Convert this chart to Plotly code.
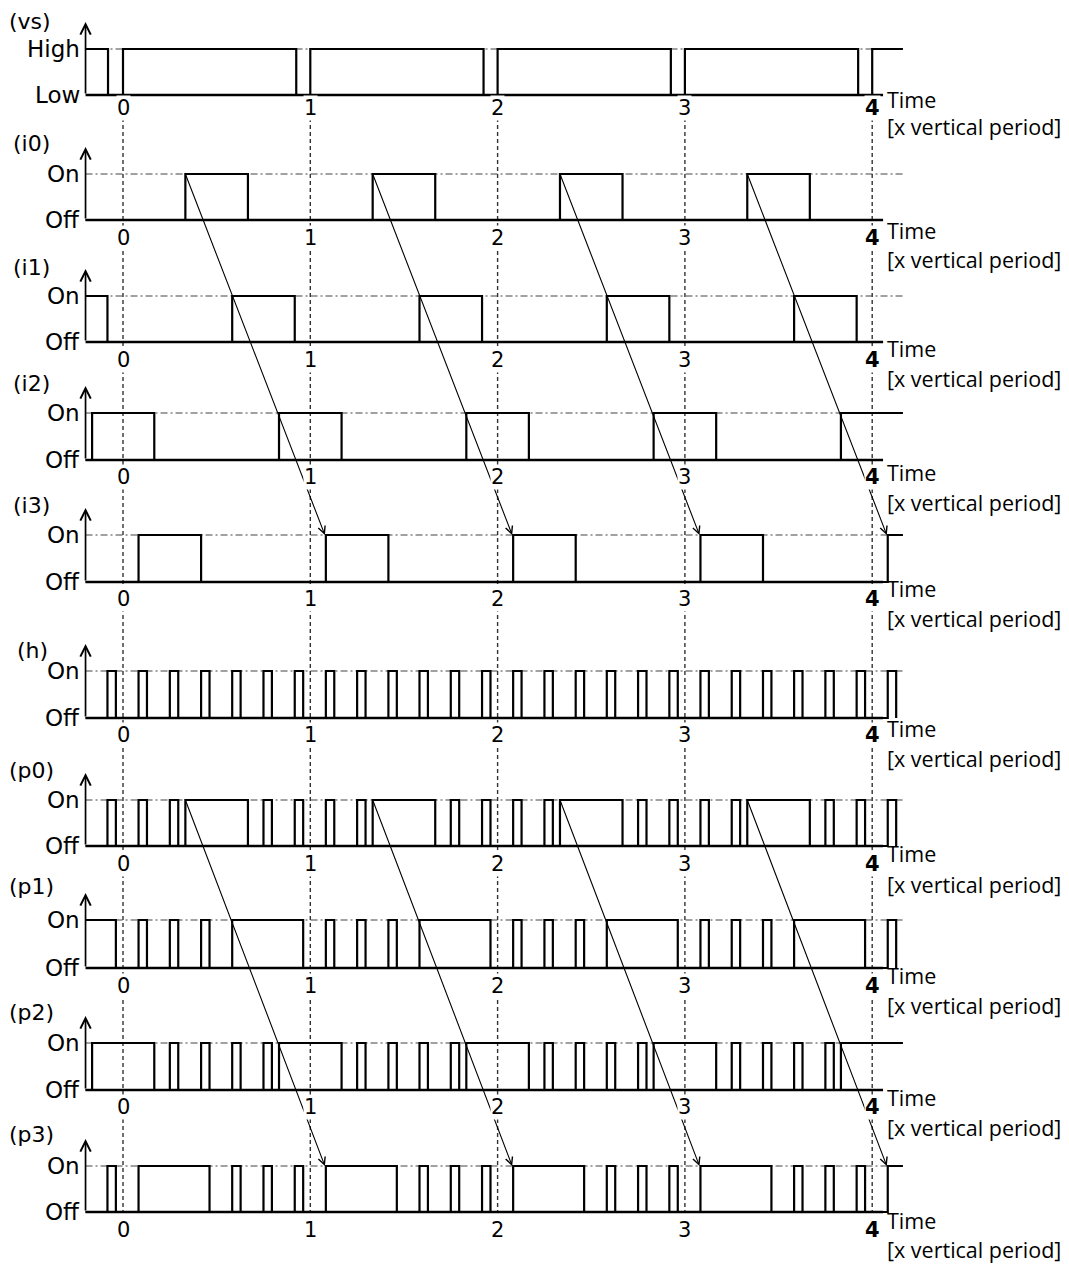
import plotly.graph_objects as go

# ---------------- data (time in vertical periods) ----------------
row_names = ["(vs)", "(i0)", "(i1)", "(i2)", "(i3)", "(h)", "(p0)", "(p1)", "(p2)", "(p3)"]
high_labels = ["High", "On", "On", "On", "On", "On", "On", "On", "On", "On"]
low_labels = ["Low", "Off", "Off", "Off", "Off", "Off", "Off", "Off", "Off", "Off"]
tick_values = [0, 1, 2, 3, 4]
tick_text = ["0", "1", "2", "3", "<b>4</b>"]
axis_title_1 = "Time"
axis_title_2 = "[x vertical period]"

vs_high = [[-0.2, -0.08], [0.0, 0.925], [1.0, 1.925], [2.0, 2.925], [3.0, 3.925], [4.0, 4.2]]
i0_on = [[0.333, 0.667], [1.333, 1.667], [2.333, 2.667], [3.333, 3.667]]
i1_on = [[-0.2, -0.083], [0.583, 0.917], [1.583, 1.917], [2.583, 2.917], [3.583, 3.917]]
i2_on = [[-0.165, 0.167], [0.833, 1.167], [1.833, 2.167], [2.833, 3.167], [3.833, 4.164]]
i3_on = [[0.083, 0.417], [1.083, 1.417], [2.083, 2.417], [3.083, 3.417], [4.083, 4.2]]
h_on = [[-0.083, -0.038], [0.083, 0.128], [0.25, 0.295], [0.417, 0.462], [0.583, 0.628],
        [0.75, 0.795], [0.917, 0.962], [1.083, 1.128], [1.25, 1.295], [1.417, 1.462],
        [1.583, 1.628], [1.75, 1.795], [1.917, 1.962], [2.083, 2.128], [2.25, 2.295],
        [2.417, 2.462], [2.583, 2.628], [2.75, 2.795], [2.917, 2.962], [3.083, 3.128],
        [3.25, 3.295], [3.417, 3.462], [3.583, 3.628], [3.75, 3.795], [3.917, 3.962],
        [4.083, 4.128]]
p0_on = [[-0.083, -0.038], [0.083, 0.128], [0.25, 0.295], [0.333, 0.667], [0.75, 0.795],
         [0.917, 0.962], [1.083, 1.128], [1.25, 1.295], [1.333, 1.667], [1.75, 1.795],
         [1.917, 1.962], [2.083, 2.128], [2.25, 2.295], [2.333, 2.667], [2.75, 2.795],
         [2.917, 2.962], [3.083, 3.128], [3.25, 3.295], [3.333, 3.667], [3.75, 3.795],
         [3.917, 3.962], [4.083, 4.128]]
p1_on = [[-0.2, -0.038], [0.083, 0.128], [0.25, 0.295], [0.417, 0.462], [0.583, 0.962],
         [1.083, 1.128], [1.25, 1.295], [1.417, 1.462], [1.583, 1.962],
         [2.083, 2.128], [2.25, 2.295], [2.417, 2.462], [2.583, 2.962],
         [3.083, 3.128], [3.25, 3.295], [3.417, 3.462], [3.583, 3.962], [4.083, 4.128]]
p2_on = [[-0.165, 0.167], [0.25, 0.295], [0.417, 0.462], [0.583, 0.628], [0.75, 0.795],
         [0.833, 1.167], [1.25, 1.295], [1.417, 1.462], [1.583, 1.628], [1.75, 1.795],
         [1.833, 2.167], [2.25, 2.295], [2.417, 2.462], [2.583, 2.628], [2.75, 2.795],
         [2.833, 3.167], [3.25, 3.295], [3.417, 3.462], [3.583, 3.628], [3.75, 3.795],
         [3.833, 4.164]]
p3_on = [[-0.083, -0.038], [0.083, 0.462], [0.583, 0.628], [0.75, 0.795], [0.917, 0.962],
         [1.083, 1.462], [1.583, 1.628], [1.75, 1.795], [1.917, 1.962],
         [2.083, 2.462], [2.583, 2.628], [2.75, 2.795], [2.917, 2.962],
         [3.083, 3.462], [3.583, 3.628], [3.75, 3.795], [3.917, 3.962], [4.083, 4.2]]

signals = [vs_high, i0_on, i1_on, i2_on, i3_on, h_on, p0_on, p1_on, p2_on, p3_on]

# diagonal arrows: i0 rise -> i3 rise, p0 rise -> p3 rise
arrow_from = [0.333, 1.333, 2.333, 3.333]
arrow_to = [1.078, 2.078, 3.078, 4.078]

# ---------------- layout constants (screen pixels) ----------------
PAGE_OFF = 8                      # browser body margin around the plot div
W, H = 1069 - PAGE_OFF, 1264 - PAGE_OFF
X0_PX, UNIT_PX = 123.0, 187.3
X_AXIS_START = -0.2
X_AXIS_END = 4.058
X_SIG_END = 4.164
ON_Y = [49, 174, 296, 413, 535, 671, 800, 920, 1043, 1166]
OFF_Y = [95, 220, 342, 460, 582, 718, 846, 968, 1090, 1212]
LABEL_Y = [8, 143, 267, 383, 505, 650, 770, 886, 1012, 1134]
LABEL_YANCHOR = ["top"] + ["middle"] * 9
LABEL_X = [8, 12, 12, 12, 12, 16, 8, 8, 8, 8]
TICK_DY = [13, 18, 18, 17, 17, 17, 18, 18, 17, 18]
TIME_Y = [99, 230, 348, 472, 588, 728, 853, 975, 1097, 1220]
PERIOD_Y = [126, 259, 378, 502, 618, 758, 884, 1005, 1127, 1249]
ARROW_TIP = 27

FONT_MAIN = "DejaVu Sans"
FONT_TIME = "Open Sans"


def px2x(px):
    return (px - X0_PX) / UNIT_PX


def px2paper(px):
    return (px - PAGE_OFF) / W


def step_xy(intervals, on_y, off_y):
    ivs = sorted(intervals)
    xs, ys = [X_AXIS_START], [on_y if ivs[0][0] <= X_AXIS_START else off_y]
    for s, e in ivs:
        if s > X_AXIS_START:
            xs += [s, s]
            ys += [off_y, on_y]
        if e < X_SIG_END:
            xs += [e, e]
            ys += [on_y, off_y]
        else:
            xs.append(X_SIG_END)
            ys.append(on_y)
            return xs, ys
    xs.append(max(xs[-1], X_AXIS_END))
    ys.append(off_y)
    return xs, ys


fig = go.Figure()

# On / High reference lines (dashed)
for r in range(len(signals)):
    fig.add_trace(go.Scatter(x=[X_AXIS_START, X_SIG_END], y=[ON_Y[r], ON_Y[r]], mode="lines",
                             line=dict(color="#444444", width=1.1, dash="7px,3px,2px,3px"),
                             hoverinfo="skip", showlegend=False))

# vertical dashed lines at integer periods
for t in tick_values:
    fig.add_trace(go.Scatter(x=[t, t], y=[OFF_Y[0] + 2, OFF_Y[-1]], mode="lines",
                             line=dict(color="#333333", width=1.4, dash="4px,3px"),
                             hoverinfo="skip", showlegend=False))

# baselines (time axes)
for r in range(len(signals)):
    fig.add_trace(go.Scatter(x=[X_AXIS_START, X_AXIS_END], y=[OFF_Y[r], OFF_Y[r]], mode="lines",
                             line=dict(color="black", width=2.4),
                             hoverinfo="skip", showlegend=False))

# signals
for r, sig in enumerate(signals):
    xs, ys = step_xy(sig, ON_Y[r], OFF_Y[r])
    fig.add_trace(go.Scatter(x=xs, y=ys, mode="lines",
                             line=dict(color="black", width=2.2),
                             hoverinfo="skip", showlegend=False))

ann = []
# diagonal arrows
for top, bottom in [(1, 4), (6, 9)]:
    for a, b in zip(arrow_from, arrow_to):
        ann.append(dict(x=b, y=ON_Y[bottom], ax=a, ay=ON_Y[top], xref="x", yref="y",
                        axref="x", ayref="y", text="", showarrow=True, arrowhead=5,
                        arrowsize=1.3, arrowwidth=1.1, arrowcolor="black", standoff=0))

# vertical axes with arrows
for r in range(len(signals)):
    ann.append(dict(x=X_AXIS_START, y=ON_Y[r] - ARROW_TIP, ax=X_AXIS_START, ay=OFF_Y[r],
                    xref="x", yref="y", axref="x", ayref="y", text="", showarrow=True,
                    arrowhead=5, arrowsize=1.2, arrowwidth=1.7, arrowcolor="black", standoff=0))

# texts
for r in range(len(signals)):
    ann.append(dict(x=px2paper(LABEL_X[r]), xref="paper", y=LABEL_Y[r], yref="y",
                    text=row_names[r], xanchor="left", yanchor=LABEL_YANCHOR[r],
                    showarrow=False, borderpad=0,
                    font=dict(family=FONT_MAIN, size=22, color="black")))
    ann.append(dict(x=px2paper(82), xref="paper", y=ON_Y[r], yref="y", text=high_labels[r],
                    xanchor="right", yanchor="middle", showarrow=False,
                    font=dict(family=FONT_MAIN, size=23, color="black")))
    ann.append(dict(x=px2paper(82), xref="paper", y=OFF_Y[r], yref="y", text=low_labels[r],
                    xanchor="right", yanchor="middle", showarrow=False,
                    font=dict(family=FONT_MAIN, size=23, color="black")))
    for t, lab in zip(tick_values, tick_text):
        ann.append(dict(x=t, xref="x", y=OFF_Y[r] + TICK_DY[r], yref="y", text=lab,
                        xanchor="center", yanchor="middle", showarrow=False,
                        bgcolor="white", borderpad=0,
                        font=dict(family=FONT_MAIN, size=21, color="black")))
    ann.append(dict(x=px2paper(885), xref="paper", y=TIME_Y[r], yref="y", text=axis_title_1,
                    xanchor="left", yanchor="middle", showarrow=False,
                    font=dict(family=FONT_TIME, size=21.5, color="black")))
    ann.append(dict(x=px2paper(885), xref="paper", y=PERIOD_Y[r], yref="y", text=axis_title_2,
                    xanchor="left", yanchor="middle", showarrow=False,
                    font=dict(family=FONT_TIME, size=21.5, color="black")))

fig.update_layout(
    width=W, height=H, autosize=False,
    margin=dict(l=0, r=0, t=0, b=0, pad=0),
    paper_bgcolor="white", plot_bgcolor="white",
    xaxis=dict(range=[px2x(PAGE_OFF), px2x(PAGE_OFF + W)], visible=False, fixedrange=True),
    yaxis=dict(range=[PAGE_OFF + H, PAGE_OFF], visible=False, fixedrange=True),
    annotations=ann,
    showlegend=False,
)

fig.write_html("out.html")
